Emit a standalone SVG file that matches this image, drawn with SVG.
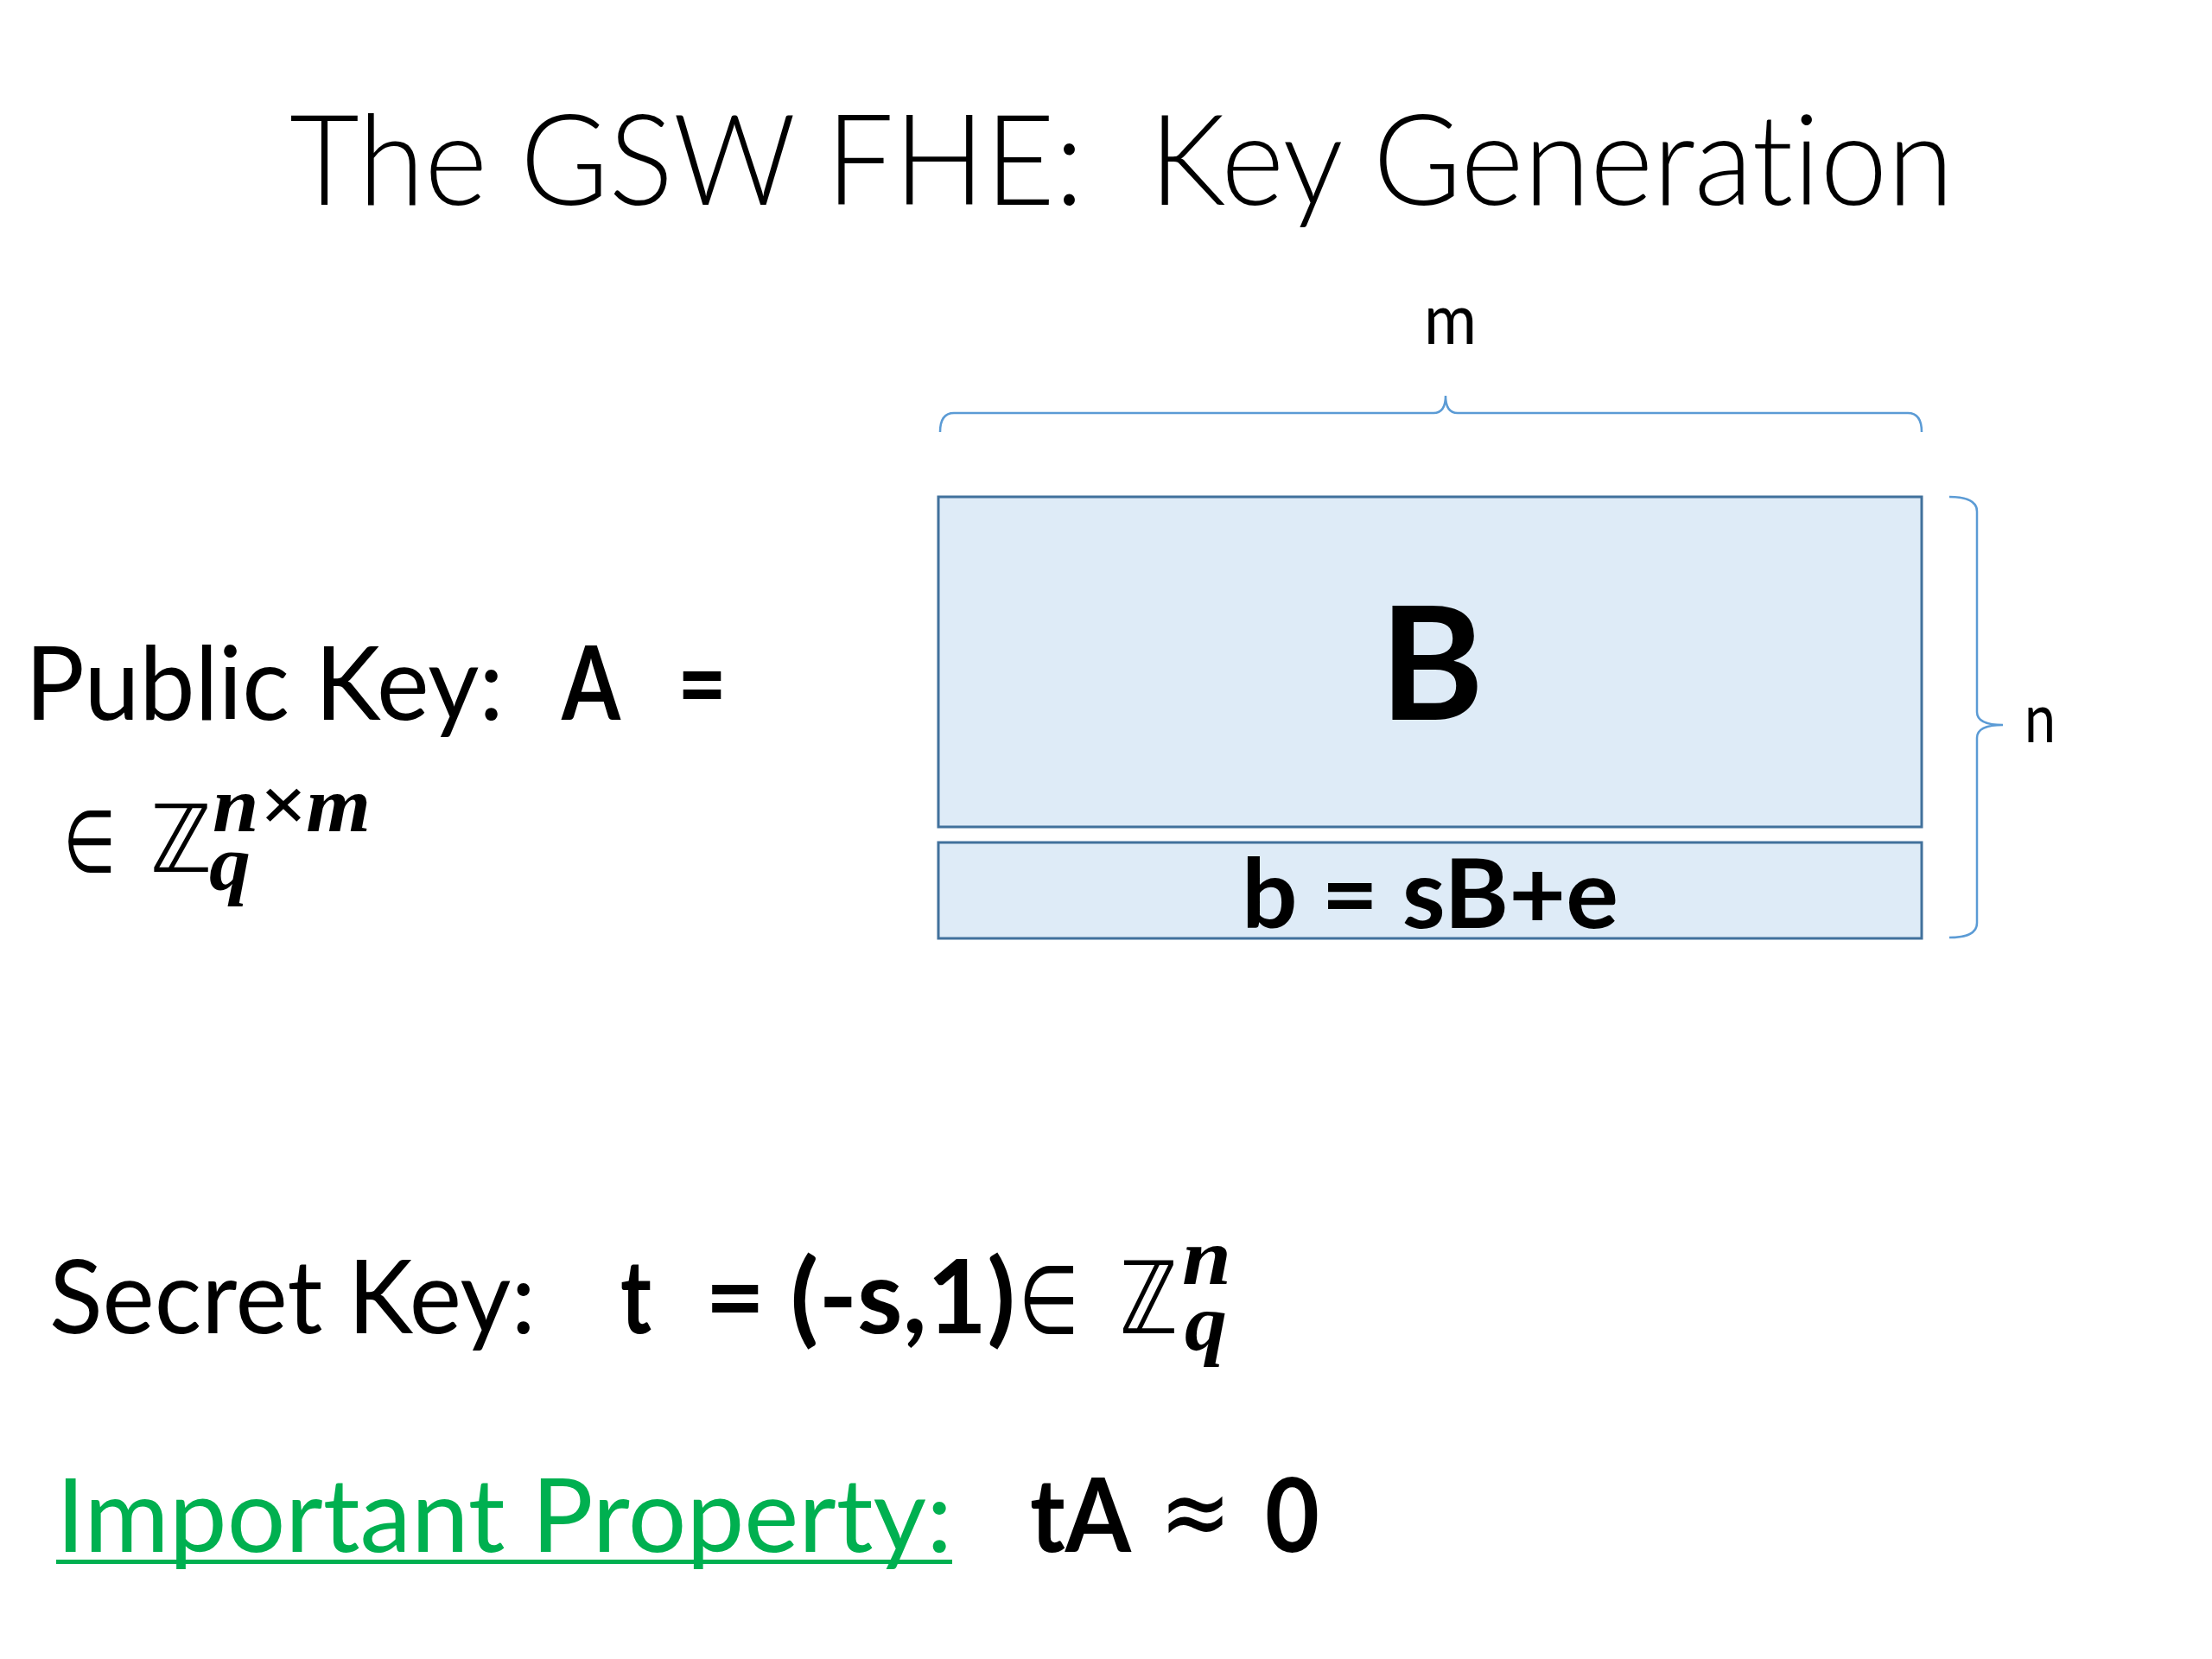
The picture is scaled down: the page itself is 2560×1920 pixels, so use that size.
<svg xmlns="http://www.w3.org/2000/svg" width="2560" height="1920" viewBox="0 0 2560 1920">
<style>
text{font-variant-ligatures:none;white-space:pre}
.t{font-family:Lato,"Open Sans","Liberation Sans",sans-serif;fill:#000}
.b{font-weight:bold}
.m{font-family:"Liberation Serif","DejaVu Serif",serif;font-style:italic;font-weight:bold;fill:#000}
.z{font-family:"DejaVu Sans","Noto Sans",sans-serif;fill:#000}
.box{fill:#DEEBF7;stroke:#41719C;stroke-width:3}
.brace{fill:none;stroke:#5B9BD5;stroke-width:2.5}
</style>
<rect width="2560" height="1920" fill="#fff"/>
<g id="title"><text class="t" x="335" y="237" font-size="146" font-weight="300" textLength="1926" lengthAdjust="spacingAndGlyphs" xml:space="preserve">The GSW FHE:  Key Generation</text></g>
<g id="public-key">
<text class="t" x="29" y="833" font-size="118" textLength="554" lengthAdjust="spacingAndGlyphs">Public Key:</text>
<text class="t b" x="650" y="833" font-size="118" textLength="68" lengthAdjust="spacingAndGlyphs">A</text>
<text class="t b" x="784" y="833" font-size="118" textLength="57" lengthAdjust="spacingAndGlyphs">=</text>
<text class="z" x="73" y="1009" font-size="100" textLength="61" lengthAdjust="spacingAndGlyphs">∈</text>
<text class="z" x="174" y="1009" font-size="108" textLength="71" lengthAdjust="spacingAndGlyphs">ℤ</text>
<text class="m" x="246" y="962" font-size="90" textLength="183" lengthAdjust="spacingAndGlyphs">n×m</text>
<text class="m" x="242" y="1030" font-size="90" textLength="48" lengthAdjust="spacingAndGlyphs">q</text>
</g>
<g id="matrix-B"><rect class="box" x="1086" y="575" width="1138" height="382"/>
<text class="t b" x="1657" y="833" font-size="183" text-anchor="middle">B</text></g>
<g id="row-b"><rect class="box" x="1086" y="975" width="1138" height="111"/>
<text class="t b" x="1437" y="1074" font-size="112" textLength="436" lengthAdjust="spacingAndGlyphs">b = sB+e</text></g>
<g id="brace-m"><path class="brace" d="M1088,500 Q1088,478 1104,478 L1659,478 Q1673,478 1673,458 Q1673,478 1687,478 L2208,478 Q2224,478 2224,500"/>
<text class="t" x="1648" y="398" font-size="82" textLength="61" lengthAdjust="spacingAndGlyphs">m</text></g>
<g id="brace-n"><path class="brace" d="M2256,575 Q2288,575 2288,592 L2288,824 Q2288,839 2318,839 Q2288,839 2288,854 L2288,1068 Q2288,1085 2256,1085"/>
<text class="t" x="2343" y="859" font-size="80" textLength="36" lengthAdjust="spacingAndGlyphs">n</text></g>
<g id="secret-key">
<text class="t" x="57" y="1543" font-size="118" textLength="563" lengthAdjust="spacingAndGlyphs">Secret Key:</text>
<text class="t b" x="718" y="1543" font-size="118" textLength="36" lengthAdjust="spacingAndGlyphs">t</text>
<text class="t b" x="816" y="1543" font-size="118" textLength="359" lengthAdjust="spacingAndGlyphs">= (-s,1)</text>
<text class="z" x="1179" y="1543" font-size="110" textLength="70" lengthAdjust="spacingAndGlyphs">∈</text>
<text class="z" x="1296" y="1543" font-size="116" textLength="67" lengthAdjust="spacingAndGlyphs">ℤ</text>
<text class="m" x="1368" y="1486" font-size="94" textLength="57" lengthAdjust="spacingAndGlyphs">n</text>
<text class="m" x="1371" y="1562" font-size="94" textLength="49" lengthAdjust="spacingAndGlyphs">q</text>
</g>
<g id="property">
<text class="t" x="65" y="1796" font-size="118" style="fill:#00B050" textLength="1037" lengthAdjust="spacingAndGlyphs">Important Property:</text>
<rect x="65" y="1805" width="1037" height="5" fill="#00B050"/>
<text class="t b" x="1192" y="1796" font-size="118" textLength="117" lengthAdjust="spacingAndGlyphs">tA</text>
<text class="z" x="1342" y="1790" font-size="118" textLength="83" lengthAdjust="spacingAndGlyphs">≈</text>
<text class="t b" x="1464" y="1796" font-size="118" textLength="63" lengthAdjust="spacingAndGlyphs">0</text>
</g>
</svg>
